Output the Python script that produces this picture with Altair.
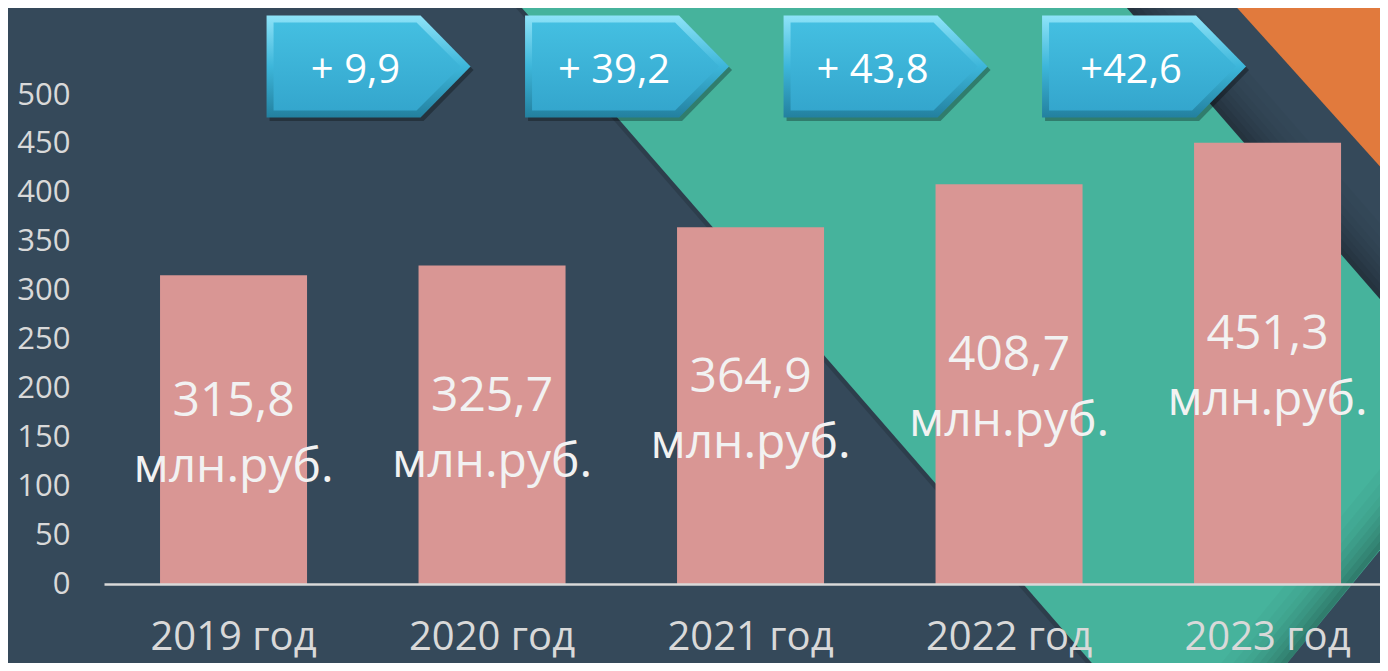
import altair as alt
import pandas as pd

# ---- data ----
years = ["2019 год", "2020 год", "2021 год", "2022 год", "2023 год"]
values = [315.8, 325.7, 364.9, 408.7, 451.3]
growth_labels = ["+ 9,9", "+ 39,2", "+ 43,8", "+42,6"]
y_ticks = [0, 50, 100, 150, 200, 250, 300, 350, 400, 450, 500]
unit_label = "млн.руб."

df = pd.DataFrame({"year": years, "value": values})
gdf = pd.DataFrame({"year": years[:4], "label": growth_labels})
one = pd.DataFrame({"k": [0]})

FONT = "Open Sans"
BG = "#35495a"
TEAL = "#46b39c"
ORANGE = "#e17a3d"
BAR = "#d99694"

# ---- decorative background shapes (paths in plot pixel units, size=4 -> scale 1) ----
def shape_layer(path, fill, opacity=1.0):
    return alt.Chart(one).mark_point(
        shape=path, size=4, filled=True, fill=fill, opacity=opacity, strokeWidth=0
    ).encode(x=alt.value(0), y=alt.value(0))

teal_path = "M 411 -95 L 1016 -95 L 1382 326 L 1153 605 L 1020 605 Z"
orange_path = "M 1126 -95 L 1300 -95 L 1300 98 Z"

layers = [shape_layer(teal_path, TEAL), shape_layer(orange_path, ORANGE)]

# soft shadow next to teal's right edge (dark side)
steps = [(0, 7, 0.30), (7, 14, 0.25), (14, 21, 0.20), (21, 28, 0.16), (28, 36, 0.12),
         (36, 44, 0.08), (44, 54, 0.05), (54, 66, 0.025)]
for a, b, op in steps:
    p = f"M {1016+a} -95 L {1016+b} -95 L {1381+b} 325 L {1381+a} 325 Z"
    layers.append(shape_layer(p, "#000000", op))
# thin shadow on teal's left edge (dark side)
layers.append(shape_layer("M 405 -95 L 411 -95 L 1020 605 L 1014 605 Z", "#000000", 0.15))
# shading along teal's lower-right edge (teal side)
for a, b, op in steps:
    p = f"M {1382-b} 325 L {1382-a} 325 L {1153-a} 605 L {1153-b} 605 Z"
    layers.append(shape_layer(p, "#000000", op))

# ---- bars ----
x_enc = alt.X(
    "year:N", sort=years,
    scale=alt.Scale(paddingInner=0.4313, paddingOuter=0.1837, align=0.59),
    axis=alt.Axis(title=None, labelAngle=0, labelFontSize=40, labelFont=FONT,
                  labelColor="#d9d9d9", labelPadding=33, ticks=False,
                  domainColor="#d9d9d9", domainWidth=2.5, zindex=1),
)
y_enc = alt.Y(
    "value:Q",
    scale=alt.Scale(domain=[0, 500], nice=False),
    axis=alt.Axis(title=None, values=y_ticks, labelFontSize=31, labelFont=FONT,
                  labelColor="#d9d9d9", labelPadding=34, ticks=False,
                  domain=False, grid=False, zindex=1),
)

bars = alt.Chart(df).mark_bar(color=BAR).encode(x=x_enc, y=y_enc)

base_txt = alt.Chart(df).transform_calculate(
    lab="replace(format(datum.value, '.1f'), '.', ',')"
).transform_calculate(
    value="datum.value / 2"
)
line1 = base_txt.mark_text(
    font=FONT, fontSize=48, color="#f2f2f2", baseline="alphabetic", dy=-14
).encode(x=alt.X("year:N", sort=years), y=alt.Y("value:Q"), text="lab:N")
line2 = base_txt.mark_text(
    font=FONT, fontSize=48, color="#f2f2f2", baseline="alphabetic", dy=52
).encode(x=alt.X("year:N", sort=years), y=alt.Y("value:Q"), text=alt.value(unit_label))

# ---- growth arrows ----
outer_path = "M -102 -51 L 52 -51 L 102 0 L 52 51 L -102 51 Z"
inner_path = "M -95 -44 L 48 -44 L 92 0 L 48 44 L -95 44 Z"

outer_grad = alt.Gradient(
    gradient="linear", x1=0, x2=0, y1=0, y2=1,
    stops=[alt.GradientStop(offset=0, color="#8ee3f8"),
           alt.GradientStop(offset=0.5, color="#3db6da"),
           alt.GradientStop(offset=1, color="#23809f")],
)
inner_grad = alt.Gradient(
    gradient="linear", x1=0, x2=0, y1=0, y2=1,
    stops=[alt.GradientStop(offset=0, color="#44bfe1"),
           alt.GradientStop(offset=1, color="#34a6cd")],
)

ARROW_DX = 135
arrow_shadow = alt.Chart(gdf).mark_point(
    shape=outer_path, size=4, filled=True, fill="#000000", opacity=0.3,
    strokeWidth=0, xOffset=ARROW_DX + 3,
).encode(x=alt.X("year:N", sort=years), y=alt.value(-25))
arrow_outer = alt.Chart(gdf).mark_point(
    shape=outer_path, size=4, filled=True, fill=outer_grad, opacity=1,
    strokeWidth=0, xOffset=ARROW_DX,
).encode(x=alt.X("year:N", sort=years), y=alt.value(-28.5))
arrow_inner = alt.Chart(gdf).mark_point(
    shape=inner_path, size=4, filled=True, fill=inner_grad, opacity=1,
    strokeWidth=0, xOffset=ARROW_DX,
).encode(x=alt.X("year:N", sort=years), y=alt.value(-28.5))
arrow_text = alt.Chart(gdf).mark_text(
    font=FONT, fontSize=40, color="#ffffff", baseline="alphabetic", dx=ARROW_DX - 13
).encode(x=alt.X("year:N", sort=years), y=alt.value(-12), text="label:N")

chart = alt.layer(
    *layers, bars, line1, line2, arrow_shadow, arrow_outer, arrow_inner, arrow_text
).properties(
    width=1276, height=489,
    autosize=alt.AutoSizeParams(type="none"),
    padding={"left": 96, "top": 87, "right": 0, "bottom": 79},
    background=BG,
).configure_view(stroke=None)

chart.save("out.html", embed_options={"renderer": "svg", "actions": False})
